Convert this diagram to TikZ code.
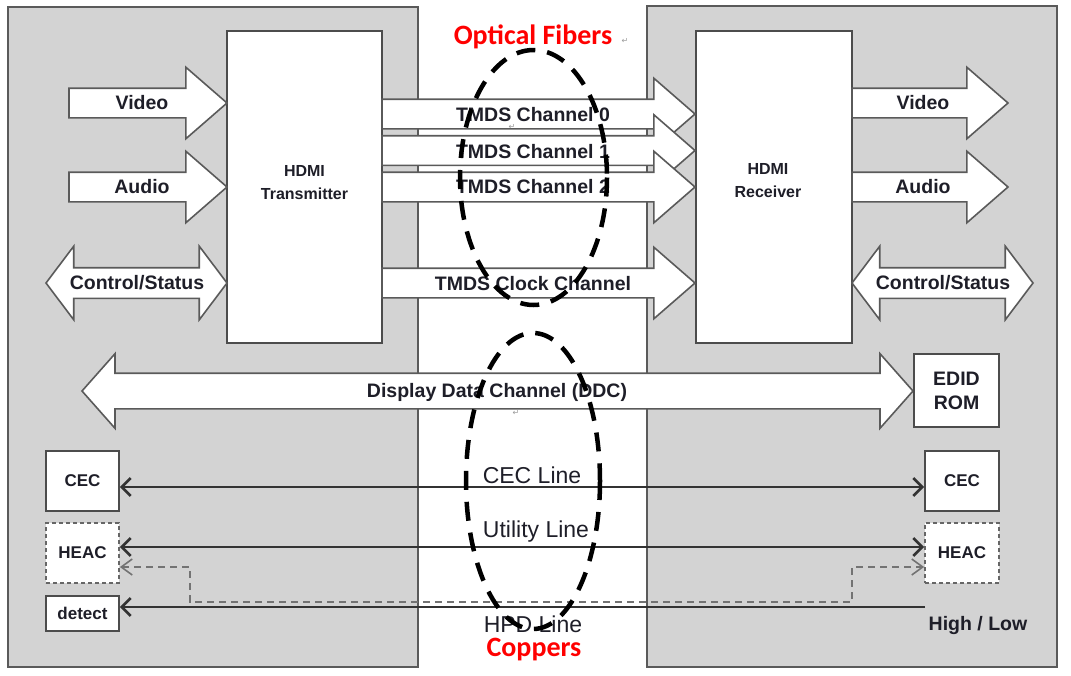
\documentclass[tikz,border=0pt]{standalone}
\usepackage{fontspec}
\setmainfont{Liberation Sans}
\newfontfamily\calibri{Carlito}
\newfontfamily\symbolfont{DejaVu Sans}
\usepackage{xcolor}
\usetikzlibrary{shapes.arrows,arrows.meta}

\definecolor{panelgray}{HTML}{D3D3D3}
\definecolor{edgegray}{HTML}{5A5A5A}
\definecolor{labtext}{HTML}{1E1E28}
\definecolor{markgray}{HTML}{9A9A9A}

\begin{document}
\begin{tikzpicture}[x=1pt, y=-1pt,
    panel/.style={rectangle, draw=edgegray, fill=panelgray, line width=2pt, inner sep=0pt},
    box/.style={rectangle, draw=black!70, fill=white, line width=1.8pt, align=center, inner sep=0pt, text=labtext, font=\fontsize{17}{20}\selectfont\bfseries},
    dbox/.style={box, draw=black!60, dash pattern=on 4pt off 3pt},
    farrow/.style={single arrow, draw=edgegray, fill=white, line width=1.6pt, inner xsep=0pt, inner ysep=14pt, outer sep=0pt, single arrow head extend=21pt, single arrow tip angle=82},
    darrow/.style={double arrow, draw=edgegray, fill=white, line width=1.6pt, inner xsep=0pt, inner ysep=14.5pt, outer sep=0pt, double arrow head extend=21.5pt, double arrow tip angle=106},
    lab/.style={text=labtext, font=\fontsize{19.5}{22}\selectfont\bfseries, inner sep=0pt},
    linelab/.style={text=labtext, font=\fontsize{23}{27}\selectfont, inner sep=0pt},
    redlab/.style={text=red, font=\calibri\fontsize{28}{32}\selectfont\bfseries, inner sep=0pt},
    retmark/.style={text=markgray, font=\symbolfont\fontsize{8}{9}\selectfont, inner sep=0pt},
    wire/.style={draw=black!80, line width=2.6pt, >={Straight Barb[length=9pt,width=18pt]}},
    dwire/.style={draw=black!55, line width=1.6pt, dash pattern=on 7pt off 5pt, >={Straight Barb[length=11pt,width=16pt]}},
    fiber/.style={draw=black, line width=4.5pt, dash pattern=on 19pt off 12pt}
]
\useasboundingbox (0,0) rectangle (1071,675);

% Source and sink sides
\node[panel, minimum width=410, minimum height=660] (srcside) at (213,337) {};
\node[panel, minimum width=410, minimum height=661] (snkside) at (852,336.5) {};

% HDMI transmitter / receiver
\node[box, minimum width=155, minimum height=312] (tx) at (304.5,187) {};
\node[box, minimum width=156, minimum height=312] (rx) at (774,187) {};
\node[lab, align=center, font=\fontsize{16}{23}\selectfont\bfseries] (txlab) at (304.5,183) {HDMI\\Transmitter};
\node[lab, align=center, font=\fontsize{16}{23}\selectfont\bfseries] (rxlab) at (768,181) {HDMI\\Receiver};

% Inputs of the transmitter
\node[farrow, minimum height=158, anchor=tail] (vidin) at (69,103) {};
\node[farrow, minimum height=158, anchor=tail] (audin) at (69,187) {};
\node[darrow, minimum height=181] (ctlin) at (136.5,283) {};
\node[lab] (vidinlab) at (142,103) {Video};
\node[lab] (audinlab) at (142,187) {Audio};
\node[lab] (ctlinlab) at (137,283) {Control/Status};

% Outputs of the receiver
\node[farrow, minimum height=156, anchor=tail] (vidout) at (852,103) {};
\node[farrow, minimum height=156, anchor=tail] (audout) at (852,187) {};
\node[darrow, minimum height=181] (ctlout) at (942.5,283) {};
\node[lab] (vidoutlab) at (923,103) {Video};
\node[lab] (audoutlab) at (923,187) {Audio};
\node[lab] (ctloutlab) at (943,283) {Control/Status};

% TMDS channels
\node[farrow, minimum height=313, anchor=tail] (ch0) at (382,114) {};
\node[farrow, minimum height=313, anchor=tail] (ch1) at (382,150.5) {};
\node[farrow, minimum height=313, anchor=tail] (ch2) at (382,187) {};
\node[farrow, minimum height=313, anchor=tail] (clk) at (382,283) {};
\node[lab] (ch0lab) at (533,115) {TMDS Channel 0};
\node[lab] (ch1lab) at (533,152) {TMDS Channel 1};
\node[lab] (ch2lab) at (533,187) {TMDS Channel 2};
\node[lab] (clklab) at (533,284) {TMDS Clock Channel};
\node[retmark] (ch0mark) at (512,127) {↵};

% DDC and EDID
\node[darrow, minimum height=831, inner ysep=17pt, double arrow head extend=19.5pt, double arrow tip angle=97] (ddc) at (497.5,391) {};
\node[lab] (ddclab) at (497,392) {Display Data Channel (DDC)};
\node[retmark] (ddcmark) at (516,413) {↵};
\node[box, font=\fontsize{19.5}{24}\selectfont\bfseries, minimum width=85, minimum height=73] (edid) at (956.5,390.5) {EDID\\ROM};

% Small blocks, source side
\node[box, minimum width=73, minimum height=60] (cecL) at (82.5,481) {CEC};
\node[dbox, minimum width=73, minimum height=60] (heacL) at (82.5,553) {HEAC};
\node[box, minimum width=73, minimum height=35] (detL) at (82.5,613.5) {detect};

% Small blocks, sink side
\node[box, minimum width=74, minimum height=60] (cecR) at (962,481) {CEC};
\node[dbox, minimum width=74, minimum height=60] (heacR) at (962,553) {HEAC};
\coordinate (hpdR) at (925,607);
\node[lab] (hilo) at (978,625) {High / Low};

% Copper lines
\draw[wire, <->] ([yshift=-6pt]cecL.east) -- ([yshift=-6pt]cecR.west);
\draw[wire, <->] ([yshift=6pt]heacL.east) -- ([yshift=6pt]heacR.west);
\coordinate (bendL) at (190,602);
\coordinate (bendR) at (852,602);
\draw[dwire, <->] ([yshift=-14pt]heacL.east) -| (bendL) -- (bendR) |- ([yshift=-14pt]heacR.west);
\draw[wire, ->] (hpdR) -- ([yshift=6.5pt]detL.east);
\node[linelab] (ceclab) at (532,475) {CEC Line};
\node[linelab] (utillab) at (536,532) {Utility Line};
\node[linelab] (hpdlab) at (533,624) {HPD Line};

% Fiber and copper groups
\draw[fiber] (533.5,177.5) ellipse [x radius=73.5, y radius=127.5];
\draw[fiber] (533,481) ellipse [x radius=67, y radius=148];
\node[redlab] (fiberlab) at (533,37) {Optical Fibers};
\node[retmark] (fibermark) at (625,41) {↵};
\node[redlab] (copperlab) at (534,650) {Coppers};

\end{tikzpicture}
\end{document}
